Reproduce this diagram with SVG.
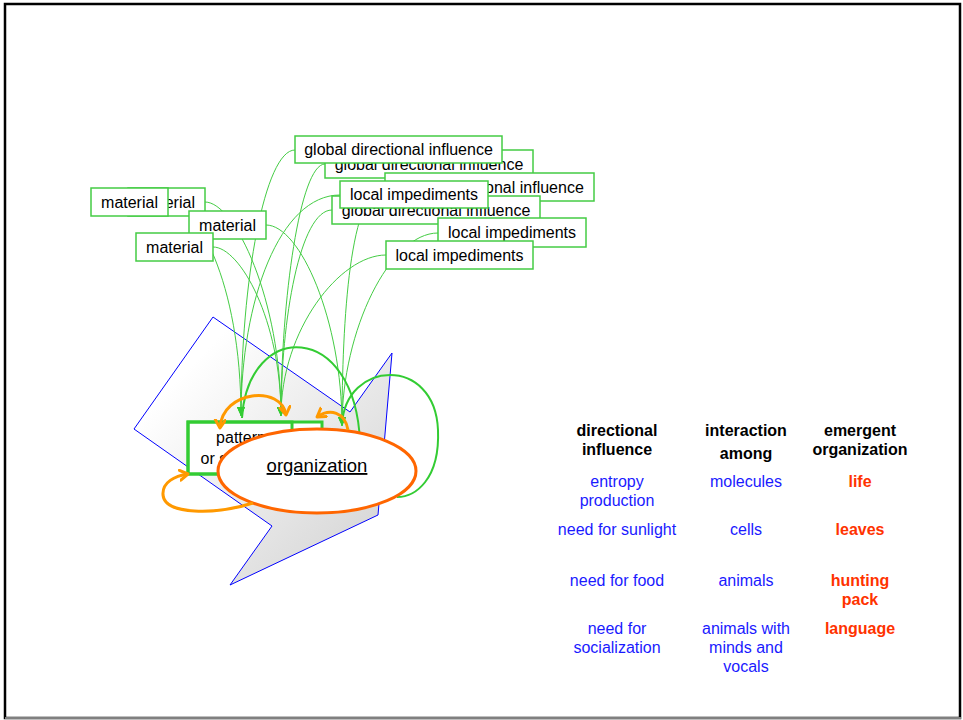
<svg xmlns="http://www.w3.org/2000/svg" width="963" height="720" viewBox="0 0 963 720">
<defs>
<linearGradient id="gshade" x1="0" y1="0" x2="1" y2="1">
<stop offset="0.2" stop-color="#ffffff"/>
<stop offset="1" stop-color="#d0d0d0"/>
</linearGradient>
<marker id="ga" markerUnits="userSpaceOnUse" markerWidth="10" markerHeight="10" refX="9" refY="4" orient="auto">
<path d="M0,0 L9,4 L0,8 Z" fill="#33cc33"/>
</marker>
<marker id="oa" markerUnits="userSpaceOnUse" markerWidth="14" markerHeight="14" refX="9" refY="6" orient="auto-start-reverse">
<path d="M1,1 L9,6 L1,11" fill="none" stroke="#ff9900" stroke-width="3" stroke-linejoin="round" stroke-linecap="round"/>
</marker>
</defs>
<style>
.lbl rect{fill:#fff;stroke:#44cc44;stroke-width:1.5}
.lbl text{font-family:"Liberation Sans",Arial,sans-serif;font-size:16px;fill:#000;text-anchor:middle}
.thin{fill:none;stroke:#44cc44;stroke-width:1;marker-end:url(#ga)}
.thick{fill:none;stroke:#33cc33;stroke-width:2}
.or{fill:none;stroke:#ff9900;stroke-width:3}
.t{font-family:"Liberation Sans",Arial,sans-serif;font-size:16px;text-anchor:middle}
.h{font-weight:bold;fill:#000}
.b{fill:#1a1aff}
.r{font-weight:bold;fill:#ff3300}
</style>
<rect x="0" y="0" width="963" height="720" fill="#fff"/>
<rect x="5" y="4" width="955" height="714" fill="none" stroke="#000" stroke-width="2.5"/>
<line x1="5" y1="718" x2="961" y2="718" stroke="#808080" stroke-width="2"/>

<polygon id="bigarrow" points="213,317 134,429 272,526 230,585 378,515 392,353 350,412" fill="url(#gshade)" stroke="#0000ff" stroke-width="1"/>

<g id="connectors">
<path class="thin" d="M168,202 C195,202 241,280 241,416"/>
<path class="thin" d="M205,202 C235,202 281,300 281,416"/>
<path class="thin" d="M266,225 C300,225 342,320 342,426"/>
<path class="thin" d="M213,247 C240,247 281,320 281,416"/>
<path class="thin" d="M295,150 C265,150 241,280 241,416"/>
<path class="thin" d="M325,164 C300,164 281,300 281,416"/>
<path class="thin" d="M385,187 C350,187 342,320 342,426"/>
<path class="thin" d="M340,195 C280,195 241,300 241,416"/>
<path class="thin" d="M332,210 C300,210 281,320 281,416"/>
<path class="thin" d="M438,233 C390,233 342,330 342,426"/>
<path class="thin" d="M386,255 C340,255 281,330 281,416"/>
<path class="thick" d="M242,418 C248,320 355,320 360,442"/>
<path class="thick" d="M342,425 C345,360 435,355 438,430 C440,480 415,497 397,497"/>
</g>

<g id="pattern">
<rect x="188" y="422" width="134" height="52" fill="#fff" stroke="#33cc33" stroke-width="3"/>
<rect x="188" y="422" width="104" height="52" fill="none" stroke="#33cc33" stroke-width="3"/>
<text class="t" x="241" y="443" fill="#000">pattern</text>
<text class="t" x="241" y="464" fill="#000">or structure</text>
</g>

<g id="organization">
<ellipse cx="317" cy="471" rx="99" ry="42" fill="#fff" stroke="#ff6600" stroke-width="3"/>
<text x="317" y="472" font-family="Liberation Sans, Arial, sans-serif" font-size="18.5" text-anchor="middle" text-decoration="underline" fill="#000">organization</text>
</g>

<g id="orange-arrows">
<path class="or" d="M220,428 C222,390 282,385 286,415" marker-start="url(#oa)" marker-end="url(#oa)"/>
<path class="or" d="M348,430 C345,412 330,408 317,417" marker-end="url(#oa)"/>
<path class="or" d="M253,503 C215,515 165,515 163,495 C162,482 175,476 188,474" marker-end="url(#oa)"/>
</g>

<g id="material-back" class="lbl"><rect x="128" y="188" width="77" height="28"/><text x="166.5" y="208">material</text></g>
<g id="material-front" class="lbl"><rect x="91" y="188" width="77" height="28"/><text x="129.5" y="208">material</text></g>
<g id="material-mid" class="lbl"><rect x="189" y="211" width="77" height="28"/><text x="227.5" y="231">material</text></g>
<g id="material-low" class="lbl"><rect x="136" y="233" width="77" height="28"/><text x="174.5" y="253">material</text></g>

<g id="global-b" class="lbl"><rect x="325" y="150" width="208" height="28"/><text x="429" y="170">global directional influence</text></g>
<g id="global-a" class="lbl"><rect x="295" y="136" width="207" height="27"/><text x="398.5" y="155">global directional influence</text></g>
<g id="global-c" class="lbl"><rect x="385" y="173" width="209" height="28"/><text x="489.5" y="193">global directional influence</text></g>
<g id="global-e" class="lbl"><rect x="332" y="196" width="208" height="28"/><text x="436" y="216">global directional influence</text></g>
<g id="local-d" class="lbl"><rect x="340" y="181" width="148" height="27"/><text x="414" y="200">local impediments</text></g>
<g id="local-f" class="lbl"><rect x="438" y="218" width="148" height="29"/><text x="512" y="238">local impediments</text></g>
<g id="local-g" class="lbl"><rect x="386" y="241" width="147" height="28"/><text x="459.5" y="261">local impediments</text></g>

<g id="table">
<text class="t h" x="617" y="436">directional</text>
<text class="t h" x="617" y="455">influence</text>
<text class="t h" x="746" y="436">interaction</text>
<text class="t h" x="746" y="459">among</text>
<text class="t h" x="860" y="436">emergent</text>
<text class="t h" x="860" y="455">organization</text>

<text class="t b" x="617" y="487">entropy</text>
<text class="t b" x="617" y="506">production</text>
<text class="t b" x="746" y="487">molecules</text>
<text class="t r" x="860" y="487">life</text>

<text class="t b" x="617" y="535">need for sunlight</text>
<text class="t b" x="746" y="535">cells</text>
<text class="t r" x="860" y="535">leaves</text>

<text class="t b" x="617" y="586">need for food</text>
<text class="t b" x="746" y="586">animals</text>
<text class="t r" x="860" y="586">hunting</text>
<text class="t r" x="860" y="605">pack</text>

<text class="t b" x="617" y="634">need for</text>
<text class="t b" x="617" y="653">socialization</text>
<text class="t b" x="746" y="634">animals with</text>
<text class="t b" x="746" y="653">minds and</text>
<text class="t b" x="746" y="672">vocals</text>
<text class="t r" x="860" y="634">language</text>
</g>
</svg>
